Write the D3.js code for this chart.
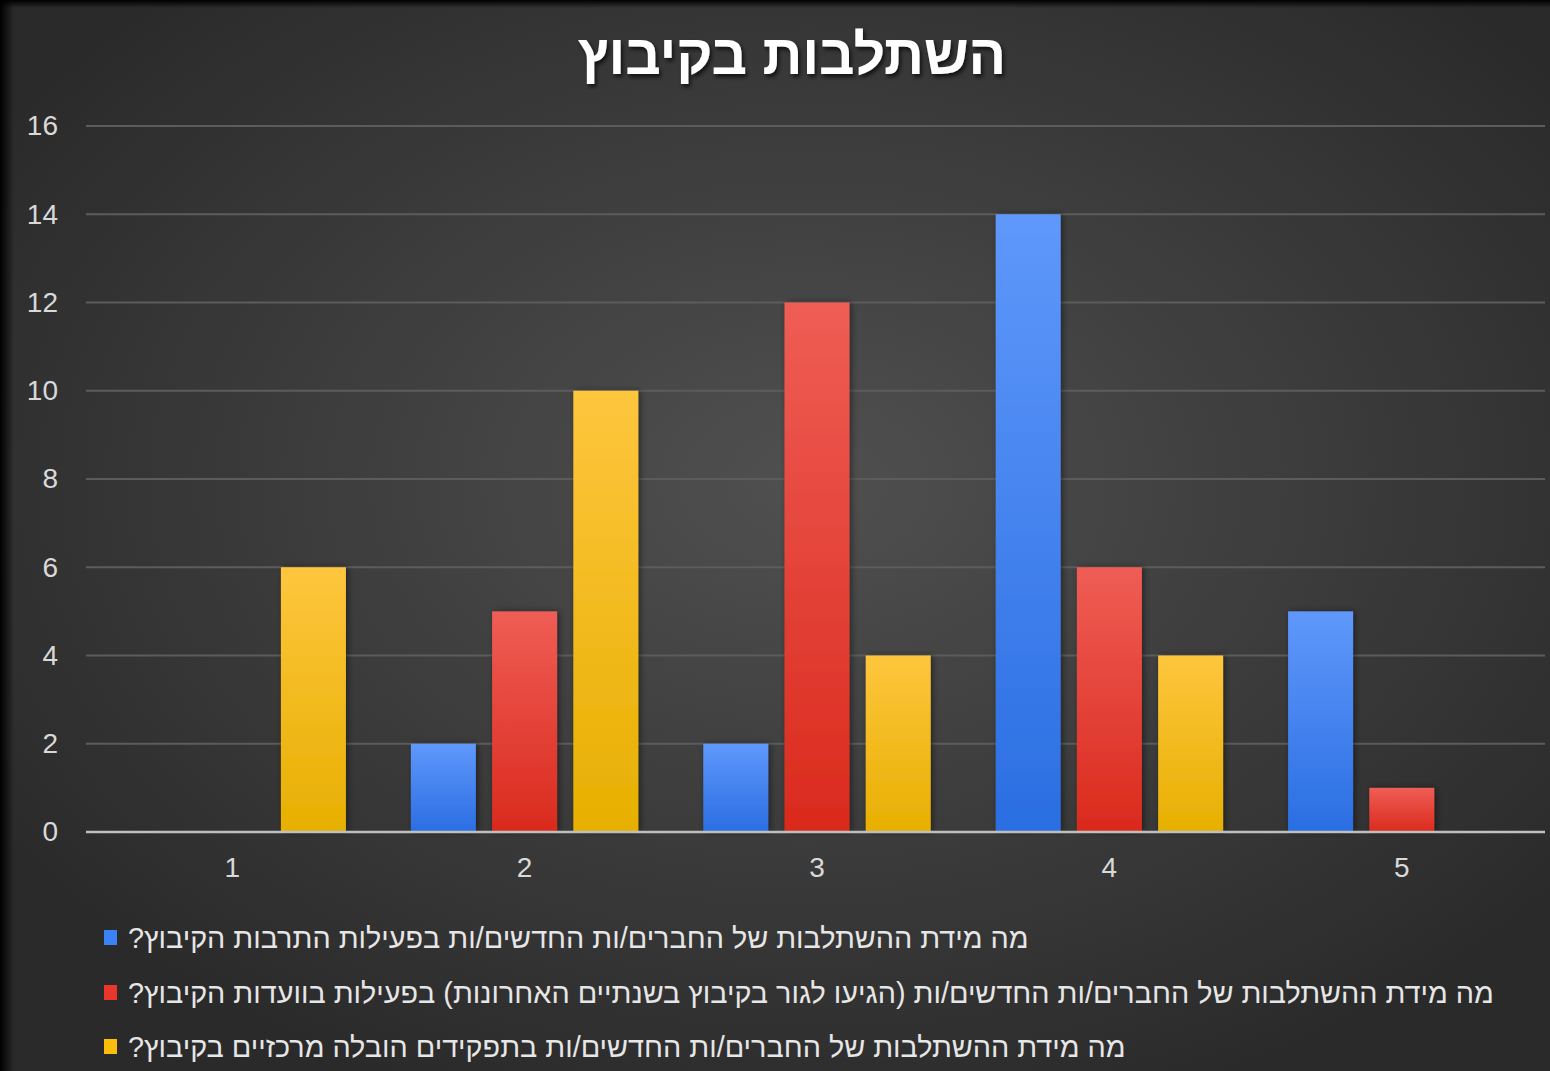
<!DOCTYPE html>
<html>
<head>
<meta charset="utf-8">
<script src="https://cdn.jsdelivr.net/npm/d3@7"></script>
<style>
  html, body { margin: 0; padding: 0; background: #000; }
  #chart { width: 1550px; height: 1071px; }
</style>
</head>
<body>
<div id="chart"></div>
<script>
const title = 'השתלבות בקיבוץ'
const categories = ['1', '2', '3', '4', '5']
const yTicks = [0, 2, 4, 6, 8, 10, 12, 14, 16]
const seriesNames = [
  'מה מידת ההשתלבות של החברים/ות החדשים/ות בפעילות התרבות הקיבוץ?',
  'מה מידת ההשתלבות של החברים/ות החדשים/ות (הגיעו לגור בקיבוץ בשנתיים האחרונות) בפעילות בוועדות הקיבוץ?',
  'מה מידת ההשתלבות של החברים/ות החדשים/ות בתפקידים הובלה מרכזיים בקיבוץ?'
]
const blueValues = [0, 2, 2, 14, 5]
const redValues = [0, 5, 12, 6, 1]
const yellowValues = [6, 10, 4, 4, 0]

const COLORS = [
  { top: '#5f98fb', bottom: '#2a6ee2', key: '#3a82f6' },
  { top: '#ef5d55', bottom: '#da2a1d', key: '#e8362b' },
  { top: '#fec63d', bottom: '#e7af00', key: '#fdbd0b' }
]

const values = [blueValues, redValues, yellowValues]
const data = categories.map((c, i) => ({
  cat: c,
  vals: values.map((v, s) => ({ s, v: v[i] }))
}))

const width = 1550, height = 1071
const svg = d3.select('#chart').append('svg')
  .attr('width', width).attr('height', height)

const defs = svg.append('defs')
const bg = defs.append('radialGradient').attr('id', 'bg')
  .attr('cx', '52%').attr('cy', '45%').attr('r', '62%')
bg.append('stop').attr('offset', '0%').attr('stop-color', '#505050')
bg.append('stop').attr('offset', '100%').attr('stop-color', '#2a2a2a')

const edgeL = defs.append('linearGradient').attr('id', 'edgeL')
edgeL.append('stop').attr('offset', '0%').attr('stop-color', '#000').attr('stop-opacity', 1)
edgeL.append('stop').attr('offset', '100%').attr('stop-color', '#000').attr('stop-opacity', 0)
const edgeT = defs.append('linearGradient').attr('id', 'edgeT')
  .attr('x1', 0).attr('y1', 0).attr('x2', 0).attr('y2', 1)
edgeT.append('stop').attr('offset', '0%').attr('stop-color', '#000').attr('stop-opacity', 1)
edgeT.append('stop').attr('offset', '100%').attr('stop-color', '#000').attr('stop-opacity', 0)

COLORS.forEach((c, i) => {
  const g = defs.append('linearGradient').attr('id', 'bar' + i)
    .attr('x1', 0).attr('y1', 0).attr('x2', 0).attr('y2', 1)
  g.append('stop').attr('offset', '0%').attr('stop-color', c.top)
  g.append('stop').attr('offset', '100%').attr('stop-color', c.bottom)
})

const shadow = defs.append('filter').attr('id', 'shadow')
  .attr('x', '-20%').attr('y', '-20%').attr('width', '140%').attr('height', '140%')
shadow.append('feDropShadow').attr('dx', 2).attr('dy', 0).attr('stdDeviation', 3)
  .attr('flood-color', '#000').attr('flood-opacity', 0.45)

const tshadow = defs.append('filter').attr('id', 'tshadow')
tshadow.append('feDropShadow').attr('dx', 2).attr('dy', 3).attr('stdDeviation', 2)
  .attr('flood-color', '#000').attr('flood-opacity', 0.7)

svg.append('rect').attr('width', width).attr('height', height).attr('fill', 'url(#bg)')
svg.append('rect').attr('width', 14).attr('height', height).attr('fill', 'url(#edgeL)')
svg.append('rect').attr('width', width).attr('height', 8).attr('fill', 'url(#edgeT)')

const font = "'Liberation Sans', Arial, 'DejaVu Sans', sans-serif"

// Title
svg.append('text')
  .attr('x', 792).attr('y', 74)
  .attr('text-anchor', 'middle')
  .attr('fill', '#ffffff')
  .attr('font-family', font)
  .attr('font-weight', 'bold')
  .attr('font-size', '55.5px')
  .attr('filter', 'url(#tshadow)')
  .text(title)

const plotL = 86, plotR = 1548, plotT = 126, plotB = 832

const x0 = d3.scaleBand().domain(categories).range([plotL, plotR])
const x1 = d3.scaleBand().domain([0, 1, 2]).range([0, x0.bandwidth()])
  .paddingInner(0.2).paddingOuter(0.4)
const y = d3.scaleLinear().domain([0, 16]).range([plotB, plotT])

// Grid
svg.append('g')
  .selectAll('line').data(yTicks.filter(d => d > 0)).join('line')
  .attr('x1', plotL).attr('x2', plotR - 3)
  .attr('y1', d => y(d)).attr('y2', d => y(d))
  .attr('stroke', '#5c5c5c')
  .attr('stroke-width', 2)

// Y axis labels
svg.append('g')
  .attr('transform', `translate(${plotL - 28},0)`)
  .call(d3.axisLeft(y).tickValues(yTicks).tickSize(0).tickPadding(0))
  .call(g => g.select('.domain').remove())
  .call(g => g.selectAll('text')
    .attr('fill', '#d9d9d9')
    .attr('font-family', font)
    .attr('font-size', '28px'))

// Bars
const groups = svg.append('g').selectAll('g').data(data).join('g')
  .attr('transform', d => `translate(${x0(d.cat)},0)`)

groups.selectAll('rect').data(d => d.vals.filter(v => v.v > 0)).join('rect')
  .attr('x', d => x1(d.s))
  .attr('y', d => y(d.v))
  .attr('width', x1.bandwidth())
  .attr('height', d => y(0) - y(d.v))
  .attr('fill', d => `url(#bar${d.s})`)
  .attr('filter', 'url(#shadow)')

// Baseline
svg.append('line')
  .attr('x1', plotL).attr('x2', plotR - 3)
  .attr('y1', y(0)).attr('y2', y(0))
  .attr('stroke', '#bfbfbf')
  .attr('stroke-width', 2.5)

// X axis labels
svg.append('g')
  .attr('transform', `translate(0,${plotB + 25})`)
  .call(d3.axisBottom(x0).tickSize(0).tickPadding(0))
  .call(g => g.select('.domain').remove())
  .call(g => g.selectAll('text')
    .attr('fill', '#d9d9d9')
    .attr('font-family', font)
    .attr('font-size', '28px'))

// Legend
const legendY = [938, 993, 1047]
const legend = svg.append('g').selectAll('g').data(seriesNames).join('g')
  .attr('transform', (d, i) => `translate(104,${legendY[i]})`)

legend.append('rect')
  .attr('x', 0).attr('y', -8)
  .attr('width', 13).attr('height', 15)
  .attr('fill', (d, i) => COLORS[i].key)

legend.append('text')
  .attr('x', 24).attr('y', 10)
  .attr('direction', 'rtl')
  .attr('text-anchor', 'end')
  .attr('fill', '#e6e6e6')
  .attr('font-family', font)
  .attr('font-size', '28.8px')
  .text(d => d)
</script>
</body>
</html>
